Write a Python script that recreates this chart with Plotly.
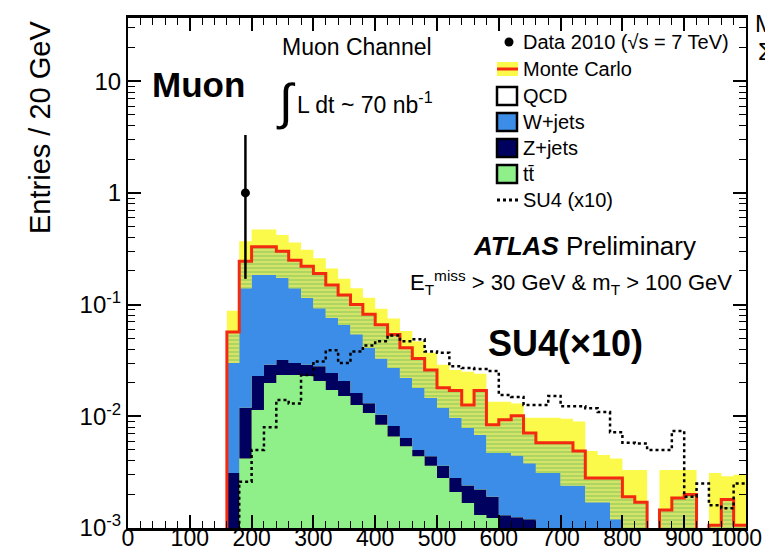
import numpy as np
import plotly.graph_objects as go

# 20 GeV bins, first filled bin starts at 160 GeV
bin_lo = np.arange(160, 1000, 20)
edges = np.append(bin_lo, 1000)

ttbar = [0.0008, 0.0042, 0.0114, 0.0199, 0.0234, 0.0234, 0.023, 0.0207, 0.0172, 0.0152,
         0.0126, 0.0107, 0.0084, 0.0066, 0.0054, 0.0044, 0.0036, 0.0028, 0.0021, 0.00167,
         0.00131, 0.00123] + [0] * 20
zjets = [0.0023, 0.0077, 0.0116, 0.0091, 0.0086, 0.0066, 0.006, 0.0073, 0.0072, 0.0055,
         0.0036, 0.0024, 0.0019, 0.0016, 0.0010, 0.0006, 0.0008, 0.0008, 0.0007, 0.00073,
         0.0009, 0.00067, 0.0013, 0.00125, 0.0012] + [0] * 17
wjets = [0.0269, 0.128, 0.161, 0.155, 0.141, 0.110, 0.086, 0.065, 0.052, 0.045,
         0.038, 0.028, 0.0227, 0.0188, 0.0156, 0.013, 0.0102, 0.0083, 0.0069, 0.0055,
         0.0046, 0.0028, 0.0034, 0.0032, 0.0026, 0.0031, 0.0031, 0.0024, 0.0024, 0.0017,
         0.0017, 0.0012] + [0] * 10
mc_total = [0.057, 0.245, 0.33, 0.33, 0.30, 0.25, 0.22, 0.19, 0.15, 0.122,
            0.10, 0.082, 0.066, 0.054, 0.041, 0.033, 0.026, 0.018, 0.017, 0.0126,
            0.017, 0.0084, 0.0093, 0.0101, 0.0071, 0.0058, 0.0058, 0.0058, 0.0049, 0.0028,
            0.0028, 0.0028, 0.0019, 0.0017, 0, 0.00145, 0.00186, 0.0020, 0, 0.00106,
            0.0018, 0.00106]
mc_band_hi = [0.088, 0.37, 0.47, 0.47, 0.42, 0.36, 0.31, 0.26, 0.21, 0.17,
              0.14, 0.115, 0.092, 0.075, 0.058, 0.047, 0.037, 0.029, 0.026, 0.025,
              0.024, 0.0135, 0.0135, 0.013, 0.0097, 0.0097, 0.0097, 0.0095, 0.009, 0.0049,
              0.0045, 0.0042, 0.0033, 0.0033, 0, 0.0033, 0.0033, 0.0033, 0, 0.0031,
              0.0029, 0.003]
su4_x10 = [0, 0.0026, 0.005, 0.008, 0.014, 0.013, 0.0234, 0.031, 0.039, 0.030,
           0.038, 0.043, 0.047, 0.053, 0.047, 0.049, 0.038, 0.037, 0.028, 0.027,
           0.0265, 0.0254, 0.0155, 0.0149, 0.0126, 0.0126, 0.0152, 0.0123, 0.0123, 0.0118,
           0.0109, 0.0072, 0.0058, 0.0057, 0.0050, 0.0050, 0.0074, 0.0019, 0.0025, 0.0016,
           0.0015, 0.0025]

data_x = [190]
data_y = [1.0]
data_err_up = [2.3]
data_err_down = [0.83]

x_ticks = [0, 100, 200, 300, 400, 500, 600, 700, 800, 900, 1000]
x_ticktext = ['0', '100', '200', '300', '400', '500', '600', '700', '800', '900',
              '1000\u2007\u2008']

FLOOR = 1e-5


def stair(v):
    v = np.maximum(np.asarray(v, dtype=float), FLOOR)
    return np.append(v, v[-1])


stack1 = np.array(ttbar)
stack2 = stack1 + np.array(zjets)
stack3 = stack2 + np.array(wjets)

fig = go.Figure()


def band(lower, upper, color, pattern=None):
    fig.add_trace(go.Scatter(x=edges, y=stair(lower), mode='lines', line_shape='hv',
                             line=dict(width=0), hoverinfo='skip'))
    kw = dict(fillpattern=pattern) if pattern else {}
    fig.add_trace(go.Scatter(x=edges, y=stair(upper), mode='lines', line_shape='hv',
                             line=dict(width=0), fill='tonexty', fillcolor=color,
                             hoverinfo='skip', **kw))


zeros = [0] * len(bin_lo)
band(zeros, mc_band_hi, '#fbf94a')
band(zeros, ttbar, '#8fef88')
band(stack1, stack2, '#00005e')
band(stack2, stack3, '#3b8de8')
band(stack3, mc_total, '#d4e468',
     pattern=dict(shape='-', fgcolor='#83c55a', bgcolor='#d4e468', size=4, solidity=0.5))

# Monte Carlo total
fig.add_trace(go.Scatter(x=np.insert(edges, 0, edges[0]),
                         y=np.insert(stair(mc_total), 0, FLOOR),
                         mode='lines', line_shape='hv',
                         line=dict(color='#f32a10', width=3)))
# SU4 x10
fig.add_trace(go.Scatter(x=edges, y=stair(su4_x10), mode='lines', line_shape='hv',
                         line=dict(color='black', width=2.5, dash='dot')))
# data
fig.add_trace(go.Scatter(x=data_x, y=data_y, mode='markers',
                         marker=dict(color='black', size=9),
                         error_y=dict(type='data', symmetric=False, array=data_err_up,
                                      arrayminus=data_err_down, color='black',
                                      thickness=2.5, width=0)))

# pixel helpers for text / legend placement
L, R, T, B = 120, 738, 10, 520


def px(p):
    return (p - L) / (R - L)


def py(p):
    return (B - p) / (B - T)


FONT = 'Liberation Sans, Arial, sans-serif'
ann = []


def text(s, x, y, size, anchor='left', **kw):
    ann.append(dict(text=s, x=px(x), y=py(y), xref='paper', yref='paper',
                    xanchor=anchor, yanchor='middle', showarrow=False,
                    font=dict(size=size, family=FONT, color='black'), **kw))


text('Entries / 20 GeV', 32, 120, 29, anchor='center', textangle=-90)
text('<b>Muon</b>', 142, 77, 35)
text('Muon Channel', 272, 39, 23)
text('\u222b', 278, 94, 50, anchor='center')
text('L dt ~ 70 nb<sup>-1</sup>', 287, 95, 23)
text('<b><i>ATLAS</i></b> Preliminary', 463, 238, 26)
text('E<sub>T</sub><sup>miss</sup> &gt; 30 GeV &amp; m<sub>T</sub> &gt; 100 GeV', 726, 275, 22,
     anchor='right')
text('<b>SU4(\u00d710)</b>', 478, 335, 36)
text('M', 745, 16, 24)
text('\u03a3p', 748, 44, 24)

shapes = []
rows = [34, 61, 88, 114, 140, 166, 192]
labels = ['Data 2010 (\u221as = 7 TeV)', 'Monte Carlo', 'QCD', 'W+jets', 'Z+jets',
          'tt\u0304', 'SU4 (x10)']
for r, lab in zip(rows, labels):
    text(lab, 513, r, 20)

shapes.append(dict(type='circle', xref='paper', yref='paper', x0=px(496.5), x1=px(505.5),
                   y0=py(rows[0] + 4.5), y1=py(rows[0] - 4.5), fillcolor='black',
                   line=dict(width=0)))
shapes.append(dict(type='rect', xref='paper', yref='paper', x0=px(489), x1=px(510),
                   y0=py(rows[1] + 7), y1=py(rows[1] - 7), fillcolor='#fbf94a',
                   line=dict(width=0)))
shapes.append(dict(type='line', xref='paper', yref='paper', x0=px(489), x1=px(510),
                   y0=py(rows[1]), y1=py(rows[1]), line=dict(color='#f32a10', width=3)))
for r, c in zip(rows[2:6], ['white', '#3b8de8', '#00005e', '#8fef88']):
    shapes.append(dict(type='rect', xref='paper', yref='paper', x0=px(489), x1=px(509),
                       y0=py(r + 9), y1=py(r - 9), fillcolor=c,
                       line=dict(color='black', width=2.5)))
shapes.append(dict(type='line', xref='paper', yref='paper', x0=px(489), x1=px(510),
                   y0=py(rows[6]), y1=py(rows[6]),
                   line=dict(color='black', width=3, dash='dot')))

ymaj = [1e-3, 1e-2, 1e-1, 1, 10]
ymin = [m * 10.0 ** e for e in range(-3, 2) for m in range(2, 10) if m * 10.0 ** e < 36]

fig.update_layout(
    width=773, height=555,
    margin=dict(l=L, r=773 - R, t=T, b=555 - B),
    paper_bgcolor='white', plot_bgcolor='white',
    showlegend=False,
    font=dict(family=FONT, color='black'),
    annotations=ann, shapes=shapes,
    xaxis=dict(range=[0, 1000], tickvals=x_ticks, ticktext=x_ticktext,
               ticklabeloverflow='allow', tickangle=0, automargin=False,
               ticklabelstandoff=-12,
               ticks='inside', ticklen=13,
               tickwidth=1.5, tickcolor='black', showline=True, linecolor='black',
               linewidth=2.5, mirror='ticks', showgrid=False, zeroline=False,
               tickfont=dict(size=23, family=FONT),
               minor=dict(tickvals=list(range(0, 1001, 20)), ticks='inside', ticklen=7,
                          tickwidth=1.2, tickcolor='black', showgrid=False)),
    yaxis=dict(type='log', range=[-3, 1.566], tickvals=ymaj, automargin=False,
               ticktext=['10<sup>-3</sup>', '10<sup>-2</sup>', '10<sup>-1</sup>', '1', '10'],
               ticks='inside', ticklen=13, tickwidth=1.5, tickcolor='black',
               showline=True, linecolor='black', linewidth=2, mirror='ticks',
               showgrid=False, zeroline=False, tickfont=dict(size=24, family=FONT),
               minor=dict(tickvals=ymin, ticks='inside', ticklen=7, tickwidth=1.2,
                          tickcolor='black', showgrid=False)),
)

fig.write_html('out.html')
